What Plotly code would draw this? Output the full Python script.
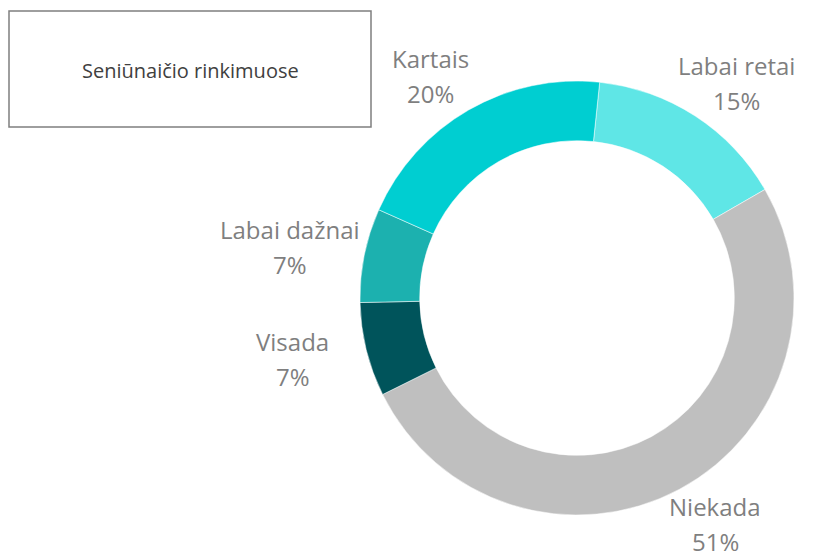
import math
import plotly.graph_objects as go

# Duomenys
kategorijos = ['Labai retai', 'Niekada', 'Visada', 'Labai dažnai', 'Kartais']
reiksmes = [15, 51, 7, 7, 20]
spalvos = ['#5FE6E6', '#BFBFBF', '#00545B', '#1CB1AF', '#00CED1']
pavadinimas = 'Seniūnaičio rinkimuose'

W, H = 820, 556
cx, cy, R = 577, 298, 217   # donut centre / radius in pixels
pradzia = 6                 # start angle (deg clockwise from 12 o'clock)
tarpas = 17.5               # half the distance between the two label lines

fig = go.Figure()
fig.add_trace(go.Pie(
    labels=kategorijos,
    values=reiksmes,
    hole=0.725,
    sort=False,
    direction='clockwise',
    rotation=pradzia,
    marker=dict(colors=spalvos, line=dict(color='white', width=0.5)),
    textinfo='none',
    showlegend=False,
    domain=dict(x=[(cx - R) / W, (cx + R) / W], y=[(H - cy - R) / H, (H - cy + R) / H]),
))

# Etiketės už žiedo, išdėstytos pagal sektoriaus vidurio kampą
suma = sum(reiksmes)
kampas = pradzia
sriftas = dict(family='Open Sans', size=24, color='#7F7F7F')
for kat, v in zip(kategorijos, reiksmes):
    dalis = v / suma * 360
    vid = math.radians(kampas + dalis / 2)
    kampas += dalis
    px = cx + 1.35 * R * math.sin(vid)
    py = cy - 1.18 * R * math.cos(vid)
    for tekstas, dy in ((kat, -tarpas), (f'{round(v / suma * 100)}%', tarpas)):
        fig.add_annotation(
            x=px / W, y=1 - (py + dy) / H, xref='paper', yref='paper',
            xanchor='center', yanchor='middle',
            text=tekstas, showarrow=False, font=sriftas,
        )

# Pavadinimo rėmelis
fig.add_shape(type='rect', xref='paper', yref='paper',
              x0=9 / W, x1=371 / W, y0=1 - 127 / H, y1=1 - 11 / H,
              line=dict(color='#7F7F7F', width=1.5), fillcolor='white')
fig.add_annotation(x=190 / W, y=1 - 70 / H, xref='paper', yref='paper',
                   xanchor='center', yanchor='middle',
                   text=pavadinimas, showarrow=False,
                   font=dict(family='Open Sans', size=20, color='#404040'))

fig.update_layout(
    width=W, height=H,
    paper_bgcolor='white',
    margin=dict(l=0, r=0, t=0, b=0),
)
fig.write_html("out.html", config={'displayModeBar': False},
               post_script="document.body.style.margin='0';")
